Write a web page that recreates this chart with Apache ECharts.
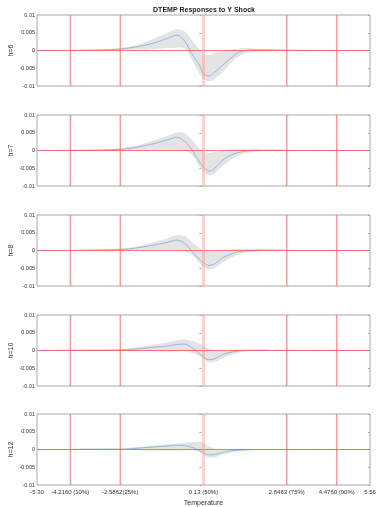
<!DOCTYPE html>
<html><head><meta charset="utf-8">
<script src="https://cdn.jsdelivr.net/npm/echarts@6/dist/echarts.min.js"></script>
<style>html,body{margin:0;padding:0;background:#fff}#c{width:376px;height:507px}</style>
</head><body><div id="c"></div>
<script>
var xGrid = [-5.3, -4.5, -3.5, -3.0, -2.5, -2.0, -1.5, -1.0, -0.75, -0.5, -0.25, 0.0, 0.13, 0.3, 0.5, 0.75, 1.0, 1.25, 1.5, 2.0, 2.5, 3.0, 4.0, 5.56];
var horizons = ['h=6', 'h=7', 'h=8', 'h=10', 'h=12'];
var mean_h6 = [0, 0.00002, 0.0001, 0.0002, 0.0005, 0.0011, 0.0021, 0.0035, 0.0043, 0.0028, -0.0009, -0.0042, -0.0065, -0.0072, -0.0061, -0.0042, -0.0023, -0.0007, 0.0, 0.0002, 0.0001, 0.00005, 0, 0];
var lo_h6 = [0, -0.00005, -0.0001, 0, 0.0001, 0.0002, 0.0004, 0.0007, 0.0008, 0.0006, -0.0025, -0.0065, -0.0080, -0.0086, -0.0080, -0.0061, -0.0037, -0.0018, -0.0008, -0.0002, -0.0001, -0.00005, 0, 0];
var hi_h6 = [0, 0.0001, 0.0002, 0.0004, 0.0008, 0.0017, 0.0033, 0.0052, 0.0060, 0.0055, 0.0030, 0.0002, -0.0010, -0.0013, -0.0008, -0.0002, 0.0003, 0.0005, 0.0006, 0.0004, 0.0003, 0.0002, 0.0001, 0];
var mean_h7 = [0, 0.00002, 0.0001, 0.0002, 0.0004, 0.0010, 0.0019, 0.0031, 0.0037, 0.0026, 0.0002, -0.0032, -0.0047, -0.0058, -0.0050, -0.0028, -0.0014, -0.0006, -0.0002, 0.0001, 0.0001, 0, 0, 0];
var lo_h7 = [0, -0.00005, -0.0001, 0, 0.0001, 0.0002, 0.0002, 0.0002, 0.0001, 0.0, -0.0012, -0.0045, -0.0060, -0.0070, -0.0064, -0.0044, -0.0028, -0.0015, -0.0007, -0.0002, -0.0001, 0, 0, 0];
var hi_h7 = [0, 0.0001, 0.0002, 0.0004, 0.0007, 0.0015, 0.0028, 0.0043, 0.0051, 0.0050, 0.0030, 0.0005, -0.0003, -0.0006, -0.0004, 0.0, 0.0003, 0.0004, 0.0004, 0.0003, 0.0002, 0.0001, 0.00005, 0];
var mean_h8 = [0, 0.00002, 0.0001, 0.0002, 0.0003, 0.0008, 0.0015, 0.0024, 0.0029, 0.0021, -0.0002, -0.0025, -0.0034, -0.0042, -0.0037, -0.0021, -0.0011, -0.0004, -0.0001, 0.0001, 0.0001, 0, 0, 0];
var lo_h8 = [0, -0.00005, -0.0001, 0, 0.0001, 0.0001, 0.0001, 0.0001, 0.0, -0.0002, -0.0012, -0.0035, -0.0045, -0.0053, -0.0049, -0.0034, -0.0022, -0.0012, -0.0006, -0.0002, -0.0001, 0, 0, 0];
var hi_h8 = [0, 0.0001, 0.0002, 0.0003, 0.0006, 0.0012, 0.0023, 0.0036, 0.0043, 0.0042, 0.0025, 0.0007, 0.0002, -0.0002, -0.0002, 0.0001, 0.0003, 0.0004, 0.0004, 0.0003, 0.0002, 0.0001, 0.00005, 0];
var mean_h10 = [0, 0.00002, 0.0001, 0.0001, 0.0002, 0.0005, 0.0009, 0.0013, 0.0017, 0.0018, 0.0008, -0.0009, -0.0018, -0.0026, -0.0023, -0.0012, -0.0005, -0.0002, 0, 0.0001, 0, 0, 0, 0];
var lo_h10 = [0, -0.00005, -0.0001, -0.0001, -0.0001, -0.0001, -0.0002, -0.0003, -0.0003, -0.0002, -0.0006, -0.0016, -0.0024, -0.0033, -0.0032, -0.0022, -0.0013, -0.0007, -0.0003, -0.0001, -0.0001, 0, 0, 0];
var hi_h10 = [0, 0.0001, 0.0002, 0.0002, 0.0004, 0.0009, 0.0016, 0.0024, 0.0029, 0.0032, 0.0027, 0.0019, 0.0014, 0.0006, 0.0001, 0.0001, 0.0002, 0.0003, 0.0003, 0.0002, 0.0001, 0.0001, 0, 0];
var mean_h12 = [0, 0, 0.0001, 0.0001, 0.0001, 0.0004, 0.0007, 0.0010, 0.0012, 0.0011, 0.0006, -0.0003, -0.0009, -0.0015, -0.0014, -0.0008, -0.0004, -0.0002, -0.0001, 0, 0, 0, 0, 0];
var lo_h12 = [0, -0.00005, -0.0001, -0.0001, -0.0001, -0.0002, -0.0003, -0.0003, -0.0003, -0.0002, -0.0002, -0.0008, -0.0015, -0.0022, -0.0022, -0.0015, -0.0009, -0.0005, -0.0003, -0.0001, -0.0001, 0, 0, 0];
var hi_h12 = [0, 0.0001, 0.0001, 0.0002, 0.0003, 0.0007, 0.0011, 0.0015, 0.0017, 0.0019, 0.0021, 0.0022, 0.0018, 0.0009, 0.0003, 0.0001, 0.0001, 0.0002, 0.0002, 0.0001, 0.0001, 0, 0, 0];
var quantileValues = [-4.2160, -2.5862, 0.13, 2.8463, 4.4760];
var xTickValues = [-5.30, -4.2160, -2.5862, 0.13, 2.8463, 4.4760, 5.56];
var xTickLabels = ['-5.30', '-4.2160 (10%)', '-2.5862(25%)', '0.13 (50%)', '2.8463 (75%)', '4.4760 (90%)', '5.56'];
var yTickLabels = {'0.01': '0.01', '0.005': '0.005', '0': '0', '-0.005': '-0.005', '-0.01': '-0.01'};

var means = [mean_h6, mean_h7, mean_h8, mean_h10, mean_h12];
var los = [lo_h6, lo_h7, lo_h8, lo_h10, lo_h12];
var his = [hi_h6, hi_h7, hi_h8, hi_h10, hi_h12];

var FONT = 'Liberation Sans, Arial, sans-serif';
var grids = [], xAxes = [], yAxes = [], series = [];
var tops = [15, 115, 215, 315, 414];

function makeBand(lo, hi) {
  return function (params, api) {
    if (params.dataIndex !== 0) return null;
    var pts = [];
    for (var i = 0; i < xGrid.length; i++) pts.push(api.coord([xGrid[i], hi[i]]));
    for (var j = xGrid.length - 1; j >= 0; j--) pts.push(api.coord([xGrid[j], lo[j]]));
    return {type: 'polygon', shape: {points: pts, smooth: 0.3}, style: {fill: '#e4e4e4', stroke: null}, silent: true};
  };
}

for (var p = 0; p < 5; p++) {
  var last = p === 4;
  grids.push({left: 37, right: 6, top: tops[p], height: 71, show: true, borderColor: '#a8a8a8', borderWidth: 1,
    backgroundColor: '#fff', containLabel: false, outerBoundsMode: 'none'});
  xAxes.push({
    type: 'value', gridIndex: p, min: -5.3, max: 5.56,
    axisLine: {show: false}, splitLine: {show: false},
    axisTick: {show: false},
    axisLabel: last ? {show: true, customValues: xTickValues, fontSize: 6, color: '#333', fontFamily: FONT, margin: 4,
      hideOverlap: false,
      formatter: function (v) { for (var i = 0; i < xTickValues.length; i++) { if (Math.abs(xTickValues[i] - v) < 1e-6) return xTickLabels[i]; } return ''; }} : {show: false},
    name: last ? 'Temperature' : '', nameLocation: 'middle', nameGap: 15,
    nameTextStyle: {fontSize: 7, color: '#333', fontFamily: FONT}
  });
  yAxes.push({
    type: 'value', gridIndex: p, min: -0.01, max: 0.01, interval: 0.005,
    axisLine: {show: false}, splitLine: {show: false},
    axisTick: {show: true, inside: true, length: 2, lineStyle: {color: '#a8a8a8'}},
    axisLabel: {fontSize: 5.5, color: '#333', fontFamily: FONT, margin: 2,
      formatter: function (v) { var k = String(Math.round(v * 1000) / 1000); return yTickLabels[k] !== undefined ? yTickLabels[k] : k; }},
    name: horizons[p], nameLocation: 'middle', nameRotate: 90, nameGap: 22, nameMoveOverlap: false,
    nameTextStyle: {fontSize: 7, color: '#333', fontFamily: FONT}
  });
  yAxes.push({
    type: 'value', gridIndex: p, position: 'right', min: -0.01, max: 0.01, interval: 0.005,
    axisLine: {show: false}, splitLine: {show: false}, axisLabel: {show: false},
    axisTick: {show: true, inside: true, length: 2, lineStyle: {color: '#a8a8a8'}}
  });
  var mn = means[p];
  var meanData = [];
  for (var i = 0; i < xGrid.length; i++) meanData.push([xGrid[i], mn[i]]);
  series.push({type: 'custom', xAxisIndex: p, yAxisIndex: 2 * p, data: [[0, 0]], renderItem: makeBand(los[p], his[p]),
    silent: true, z: 1, clip: true});
  series.push({type: 'line', xAxisIndex: p, yAxisIndex: 2 * p, data: meanData,
    smooth: 0.4, symbol: 'none', lineStyle: {color: '#92b9d9', width: 1}, silent: true, z: 2});
  series.push({type: 'line', xAxisIndex: p, yAxisIndex: 2 * p, data: [[-5.3, 0], [5.56, 0]],
    symbol: 'none', lineStyle: {color: 'rgba(255,90,90,0.85)', width: 1}, silent: true, z: 3});
  for (var q = 0; q < quantileValues.length; q++) {
    var mid = Math.abs(quantileValues[q] - 0.13) < 1e-6;
    series.push({type: 'line', xAxisIndex: p, yAxisIndex: 2 * p,
      data: [[quantileValues[q], -0.01], [quantileValues[q], 0.01]], symbol: 'none', silent: true, z: 4,
      lineStyle: mid ? {color: 'rgba(255,150,150,0.45)', width: 3} : {color: 'rgba(255,90,90,0.85)', width: 1}});
  }
}

var chart = echarts.init(document.getElementById('c'), null, {renderer: 'canvas'});
chart.setOption({
  animation: false,
  backgroundColor: '#fff',
  grid: grids, xAxis: xAxes, yAxis: yAxes, series: series,
  graphic: [{type: 'text', x: 204, y: 10, style: {text: 'DTEMP Responses to Y Shock', font: 'bold 7px ' + FONT, fill: '#222', align: 'center', verticalAlign: 'middle'}}]
});
</script></body></html>
